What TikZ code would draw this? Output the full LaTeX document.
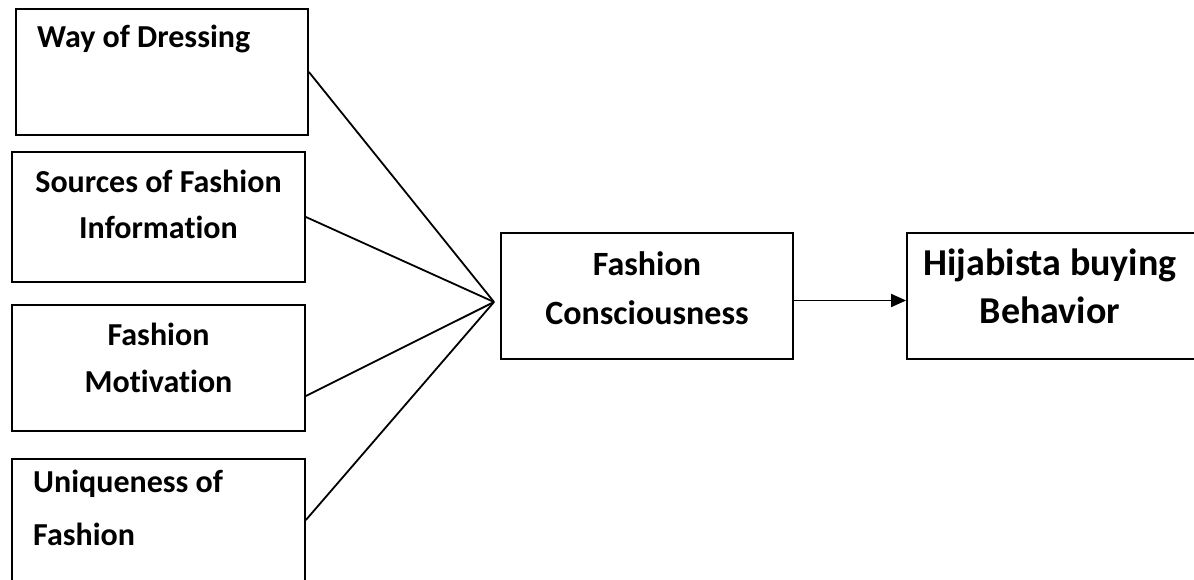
\documentclass[tikz,border=0pt]{standalone}
\usepackage{fontspec}
\setmainfont{Carlito}[Ligatures=NoCommon]
\usetikzlibrary{arrows.meta}
\tikzset{
  box/.style={draw, line width=1.8pt, inner sep=0pt, minimum width=#1},
  lbl/.style={font=\bfseries\fontsize{32}{34}\selectfont, inner sep=0pt, anchor=base},
  lbll/.style={lbl, anchor=base west},
  big/.style={font=\bfseries\fontsize{34}{36}\selectfont, inner sep=0pt, anchor=base},
  huge/.style={font=\bfseries\fontsize{38}{40}\selectfont, inner sep=0pt, anchor=base},
  conn/.style={line width=1.8pt},
  arr/.style={line width=1.8pt, -{Triangle[length=15pt,width=13pt]}}
}
\begin{document}
\begin{tikzpicture}[x=1pt,y=-1pt]
\useasboundingbox (0,0) rectangle (1194,580);
\clip (0,0) rectangle (1194,580);
% boxes
\node[box=292pt, minimum height=126pt] (b1) at (162,72) {};
\node[box=293pt, minimum height=130pt] (b2) at (158.5,217) {};
\node[box=293pt, minimum height=126pt] (b3) at (158.5,368) {};
\node[box=293pt, minimum height=141pt] (b4) at (158.5,529.5) {};
\node[box=292pt, minimum height=126pt] (fc) at (647,296) {};
\node[box=303pt, minimum height=126pt] (hb) at (1058.5,296) {};
% texts
\node[lbll] (t1) at (37,48) {Way of Dressing};
\node[lbl] (t2a) at (158.5,193) {Sources of Fashion};
\node[lbl] (t2b) at (158.5,238) {Information};
\node[lbl] (t3a) at (158.5,345) {Fashion};
\node[lbl] (t3b) at (158.5,392) {Motivation};
\node[lbll] (t4a) at (33,492) {Uniqueness of};
\node[lbll] (t4b) at (33,545) {Fashion};
\node[big] (tfa) at (647,275) {Fashion};
\node[big] (tfb) at (647,324) {Consciousness};
\node[huge] (tha) at (1050,275) {Hijabista buying};
\node[huge] (thb) at (1050,323) {Behavior};
% connectors
\coordinate (hub) at (494,302);
\draw[conn] (b1.east) -- (hub);
\draw[conn] (b2.east) -- (hub);
\draw[conn] ([yshift=-28pt]b3.east) -- (hub);
\draw[conn] ([yshift=9.5pt]b4.east) -- (hub);
\draw[arr] ([yshift=-4.5pt]fc.east) -- ([yshift=-4.5pt]hb.west);
\end{tikzpicture}
\end{document}
